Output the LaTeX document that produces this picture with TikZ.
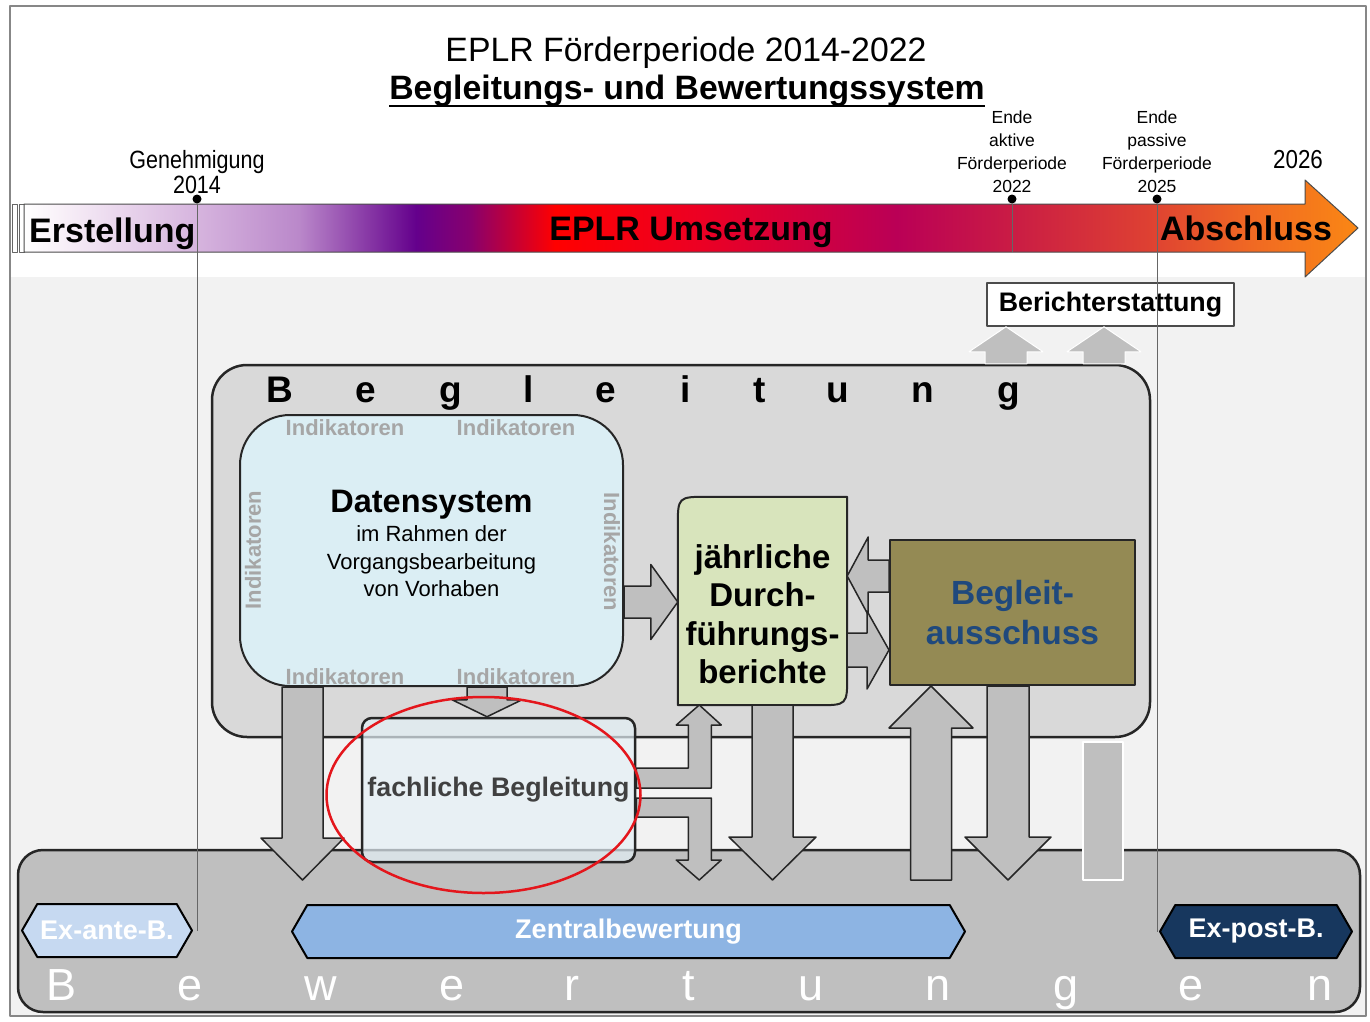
\documentclass[tikz,border=0pt]{standalone}
\usepackage{fontspec}
\setmainfont{Liberation Sans}
\newfontfamily\narrowsans[FakeStretch=0.86]{Liberation Sans}
\usetikzlibrary{calc,shapes.symbols}

\definecolor{bglight}{RGB}{242,242,242}
\definecolor{framegray}{RGB}{135,135,135}
\definecolor{beggray}{RGB}{217,217,217}
\definecolor{bewgray}{RGB}{191,191,191}
\definecolor{arrgray}{RGB}{191,191,191}
\definecolor{datblue}{RGB}{219,238,244}
\definecolor{jbgreen}{RGB}{216,228,188}
\definecolor{olive}{RGB}{148,138,84}
\definecolor{batext}{RGB}{31,73,125}
\definecolor{fachfill}{RGB}{228,240,246}
\definecolor{fachtext}{RGB}{64,64,64}
\definecolor{indgray}{RGB}{166,166,166}
\definecolor{exfill}{RGB}{198,217,241}
\definecolor{zentfill}{RGB}{141,180,227}
\definecolor{expfill}{RGB}{23,55,94}
\definecolor{ellred}{RGB}{228,22,28}
\definecolor{barA}{RGB}{248,240,248}
\definecolor{barB}{RGB}{214,180,222}
\definecolor{barC}{RGB}{186,136,202}
\definecolor{barD}{RGB}{100,0,140}
\definecolor{barE}{RGB}{135,0,110}
\definecolor{barF}{RGB}{255,0,0}
\definecolor{barG}{RGB}{236,0,35}
\definecolor{barH}{RGB}{186,0,86}
\definecolor{barI}{RGB}{200,25,70}
\definecolor{barJ}{RGB}{222,65,50}
\definecolor{barK}{RGB}{240,105,35}
\definecolor{barL}{RGB}{250,135,20}

\pgfdeclarehorizontalshading{eplrbar}{100bp}{color(0bp)=(white); color(25bp)=(white); color(26.4bp)=(barA); color(31.5bp)=(barB); color(35.3bp)=(barC); color(39.7bp)=(barD); color(41.7bp)=(barE); color(44.9bp)=(barF); color(50.3bp)=(barG); color(57.7bp)=(barH); color(61.6bp)=(barI); color(67.2bp)=(barJ); color(71bp)=(barK); color(75bp)=(barL); color(100bp)=(barL)}

\newcommand{\fsz}[2]{\fontsize{#1}{#2}\selectfont}
\newcommand{\fatarrow}[6][fatarr]{%
  \coordinate (fas) at (#2);
  \coordinate (fae) at (#3);
  \coordinate (fah) at ($(fae)!#6!(fas)$);
  \draw[#1] ($(fas)!#4!90:(fae)$) -- ($(fah)!#4!90:(fae)$) -- ($(fah)!#5!90:(fae)$) -- (fae) -- ($(fah)!#5!-90:(fae)$) -- ($(fah)!#4!-90:(fae)$) -- ($(fas)!#4!-90:(fae)$) -- cycle;}

\begin{document}
\begin{tikzpicture}[x=1pt,y=-1pt,line join=round]
                  \tikzstyle{fatarr}=[fill=arrgray,draw=black!85,line width=1.5pt]
                  \tikzstyle{upfat}=[fill=arrgray,draw=white,line width=1pt]
                  \tikzstyle{panel}=[draw=black!85,line width=2pt,inner sep=0]
                  \tikzstyle{bigletter}=[font=\fsz{37}{37}\bfseries,anchor=base,inner sep=0]
                  \tikzstyle{whiteletter}=[font=\fsz{45}{45},text=white,anchor=base,inner sep=0]
                  \tikzstyle{mile}=[align=center,font=\fsz{17.5}{23},anchor=south,inner sep=0]
                  \tikzstyle{ind}=[font=\fsz{22}{22}\bfseries,text=indgray,inner sep=0]
                  \tikzstyle{bartext}=[font=\fsz{34}{34}\bfseries,inner sep=0]
                  \tikzstyle{hexa}=[signal,signal to=west and east,signal pointer angle=120,draw=black,line width=2pt,minimum height=53,inner sep=0,font=\fsz{27}{27}\bfseries,text=white]
                  \tikzstyle{mdot}=[circle,fill=black,inner sep=0,minimum size=9]

                  \useasboundingbox (0,0) rectangle (1370,1022);
                  \fill[white] (0,0) rectangle (1370,1022);
                  \fill[bglight] (10,277) rectangle (1366,1016);
                  \draw[framegray,line width=1.5pt] (10,6) rectangle (1366,1016);

                  \node[font=\fsz{33.8}{40},anchor=base,inner sep=0] (title) at (686,62) {EPLR Förderperiode 2014-2022};
                  \node[font=\fsz{33.8}{40}\bfseries,anchor=base,inner sep=0] (subtitle) at (687,100) {Begleitungs- und Bewertungssystem};
                  \draw[line width=2pt] ([yshift=-6pt]subtitle.base west) -- ([yshift=-6pt]subtitle.base east);

                  \draw[black!60,fill=white,line width=1pt] (12,204) rectangle (17,252) (19,204) rectangle (24,252);
                  \shadedraw[shading=eplrbar,draw=black!70,line width=1pt] (24,204) -- (1305,204) -- (1305,180) -- (1358,228) -- (1305,277) -- (1305,252) -- (24,252) -- cycle;
                  \node[bartext,anchor=base west] (erst) at (29,242) {Erstellung};
                  \node[bartext,anchor=base] (ums) at (691,240) {EPLR Umsetzung};
                  \node[bartext,anchor=base] (abs) at (1246,240) {Abschluss};

                  \node[mdot] (m14) at (197,199) {};
                  \node[mdot] (m22) at (1012,199) {};
                  \node[mdot] (m25) at (1157,199) {};
                  \node[mile,font=\narrowsans\fsz{25}{25}] (gen) at (197,194) {Genehmigung\\2014};
                  \node[mile] (ende1) at (1012,193) {Ende\\aktive\\Förderperiode\\2022};
                  \node[mile] (ende2) at (1157,193) {Ende\\passive\\Förderperiode\\2025};
                  \node[mile,font=\narrowsans\fsz{26}{26}] (y26) at (1298,169) {2026};

                  \node[panel,fill=white,draw=black!70,line width=1.5pt,minimum width=247,minimum height=43,font=\fsz{26.8}{26.8}\bfseries] (ber) at (1110.5,304.5) {Berichterstattung};

                  \node[panel,fill=beggray,line width=2.5pt,rounded corners=35,minimum width=938,minimum height=372] (beg) at (681,551) {};
                  \foreach \x/\c [count=\i] in {280/B,366/e,451/g,529/l,606/e,686/i,760/t,838/u,923/n,1009/g}
                    \node[bigletter] (bl\i) at (\x,402) {\c};
                  \fatarrow[upfat]{1006,0 |- beg.north}{1006,0 |- ber.south}{21pt}{37pt}{25pt}
                  \fatarrow[upfat]{1104,0 |- beg.north}{1104,0 |- ber.south}{21pt}{37pt}{25pt}

                  \node[panel,fill=datblue,rounded corners=50,minimum width=383,minimum height=271] (dat) at (431.5,550.5) {};
                  \node[anchor=north,align=center,inner sep=0,font=\fsz{22}{27.5}] (dattxt) at (431.5,490) {{\fsz{32.5}{32.5}\bfseries Datensystem}\\[1.5pt]im Rahmen der\\Vorgangsbearbeitung\\von Vorhaben};
                  \node[ind] (ind1) at (345,428) {Indikatoren};
                  \node[ind] (ind2) at (516,428) {Indikatoren};
                  \node[ind] (ind3) at (345,677) {Indikatoren};
                  \node[ind] (ind4) at (516,677) {Indikatoren};
                  \node[ind,rotate=90] (ind5) at (253,550) {Indikatoren};
                  \node[ind,rotate=-90] (ind6) at (612,552) {Indikatoren};

                  \node[minimum width=169,minimum height=208,inner sep=0] (jb) at (762.5,601) {};
                  \draw[fill=jbgreen,draw=black!85,line width=2pt] (jb.south west) -- ([yshift=-30pt]jb.north west) .. controls (jb.north west) .. ([xshift=30pt]jb.north west) -- (jb.north east) -- ([yshift=30pt]jb.south east) .. controls (jb.south east) .. ([xshift=-30pt]jb.south east) -- cycle;
                  \node[anchor=north,align=center,inner sep=0,font=\fsz{33}{38.5}\bfseries] (jbtxt) at (762.5,544) {jährliche\\Durch-\\führungs-\\berichte};

                  \node[panel,fill=olive,minimum width=245,minimum height=145,align=center,text=batext,font=\fsz{33.5}{40}\bfseries] (ba) at (1012.5,612.5) {Begleit-\\ausschuss};

                  \node[panel,fill=bewgray,line width=2.5pt,rounded corners=25,minimum width=1342,minimum height=162] (bew) at (689,931) {};
                  \foreach \x/\c [count=\i] in {62/B,190/e,321/w,452/e,572/r,689/t,811/u,938/n,1066/g,1191/e,1320/n}
                    \node[whiteletter] (wl\i) at (\x,1000) {\c};

                  \node[panel,line width=2.5pt,fill=fachfill,fill opacity=.7,text opacity=1,rounded corners=10,minimum width=273,minimum height=144,font=\fsz{26.8}{26.8}\bfseries,text=fachtext] (fach) at (498.5,790) {fachliche Begleitung};

                  \coordinate (e1) at (302.5,880);
                  \coordinate (e2) at (772.5,880);
                  \coordinate (e3) at (931,880);
                  \coordinate (e4) at (1008,880);
                  \fatarrow{dat.east |- 0,602}{jb.west |- 0,602}{16pt}{37.5pt}{27pt}
                  \fatarrow{487,0 |- dat.south}{487,0 |- fach.north}{20pt}{35pt}{17pt}
                  \fatarrow{302.5,0 |- dat.south}{e1}{20.5pt}{41.5pt}{42pt}
                  \fatarrow{772.5,0 |- jb.south}{e2}{20.5pt}{43.5pt}{43pt}
                  \fatarrow{e3}{931,0 |- ba.south}{20.5pt}{42pt}{42pt}
                  \fatarrow{1008,0 |- ba.south}{e4}{21pt}{43pt}{43pt}
                  \fatarrow{ba.west |- 0,576}{jb.east |- 0,576}{16pt}{39pt}{21pt}
                  \fatarrow{jb.east |- 0,650}{ba.west |- 0,650}{17pt}{39pt}{22pt}
                  \draw[fatarr] ($(fach.east)+(0,-22)$) -- ++(52,0) -- ++(0,-43) -- ++(-12,0) -- ++(23,-20) -- ++(22,20) -- ++(-10,0) -- ++(0,63) -- ++(-75,0) -- cycle;
                  \draw[fatarr] ($(fach.east)+(0,8)$) -- ++(75,0) -- ++(0,62) -- ++(10,0) -- ++(-22,20) -- ++(-23,-20) -- ++(12,0) -- ++(0,-43) -- ++(-52,0) -- cycle;
                  \node[fill=arrgray,draw=white,line width=1.5pt,minimum width=40,minimum height=138,inner sep=0] (stub) at (1103,811) {};

                  \node[hexa,fill=exfill,minimum width=170] (exante) at (107,930.5) {Ex-ante-B.};
                  \node[hexa,fill=zentfill,minimum width=673] (zentral) at (628.5,931.5) {Zentralbewertung};
                  \node[hexa,fill=expfill,minimum width=192] (expost) at (1256,931.5) {Ex-post-B.};

                  \draw[black!60,line width=.8pt] (m14) -- (m14 |- exante.east);
                  \draw[black!60,line width=.8pt] (m22) -- ++(0,53);
                  \draw[black!60,line width=.8pt] (m25) -- (m25 |- expost.west);

                  \draw[ellred,line width=2.5pt] ($(fach.center)+(-15,5)$) ellipse [x radius=157,y radius=98];
\end{tikzpicture}
\end{document}
